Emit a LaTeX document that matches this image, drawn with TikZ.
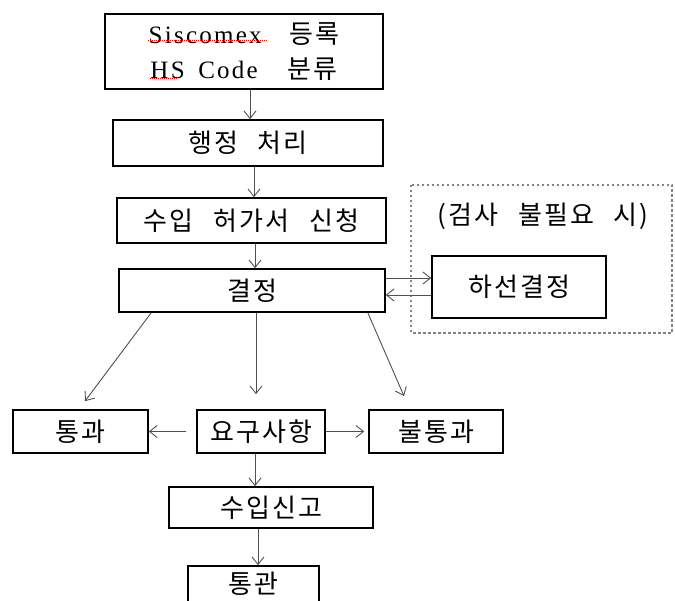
\documentclass[tikz,border=0pt]{standalone}
\usepackage{fontspec}
\setmainfont{Noto Sans CJK KR}[LetterSpace=8, WordSpace=2.5]
\newfontfamily\lat{Liberation Serif}[LetterSpace=9, WordSpace=1.6]
\usetikzlibrary{arrows.meta}
\definecolor{linegray}{RGB}{80,80,80}
\definecolor{framegray}{RGB}{130,130,130}

\begin{document}
\begin{tikzpicture}[x=1pt,y=-1pt,
    box/.style={draw, line width=1.7pt, inner sep=0pt, font=\fontsize{26}{30}\selectfont},
    arr/.style={draw=linegray, line width=0.9pt, -{Straight Barb[length=7.5pt,width=12pt]}}]
    \useasboundingbox (0,0) rectangle (675,601);
    \clip (0,0) rectangle (675,601);

    % Main column
    \node[box, minimum width=278pt, minimum height=75pt, align=center] (reg) at (244,51.5)
        {{\lat\fontsize{25}{28}\selectfont Siscomex}\hspace{8pt} 등록\\[5pt]{\lat\fontsize{25}{28}\selectfont HS Code}\hspace{10pt} 분류};
    \node[box, minimum width=270pt, minimum height=46pt] (admin) at (248,143) {행정 처리};
    \node[box, minimum width=269pt, minimum height=45pt] (apply) at (251.5,220.5) {수입 허가서 신청};
    \node[box, minimum width=266pt, minimum height=43pt] (decide) at (252,290.5) {결정};

    % Optional path (no inspection)
    \draw[framegray, line width=1.3pt, dash pattern=on 2.5pt off 2.5pt] (411,185) rectangle (672,333);
    \node[font=\fontsize{26}{30}\selectfont] (note) at (543,216) {(검사 불필요 시)};
    \node[box, minimum width=174pt, minimum height=62pt] (unload) at (519,287) {하선결정};

    % Outcomes
    \node[box, minimum width=135pt, minimum height=43pt] (pass) at (80.5,431.5) {통과};
    \node[box, minimum width=128pt, minimum height=43pt] (req) at (261,431.5) {요구사항};
    \node[box, minimum width=134pt, minimum height=43pt] (fail) at (436,431.5) {불통과};
    \node[box, minimum width=204pt, minimum height=41pt] (decl) at (271,507.5) {수입신고};
    \node[box, minimum width=131pt, minimum height=36pt] (clear) at (253.5,584) {통관};

    % Spell-check marks
    \draw[red, line width=1pt, densely dotted] (148,41) -- (268,41);
    \draw[red, line width=1pt, densely dotted] (150,79) -- (177,79);

    % Connectors
    \draw[arr] ([xshift=6pt]reg.south) -- ([xshift=2pt]admin.north);
    \draw[arr] ([xshift=6pt]admin.south) -- ([xshift=2.5pt]apply.north);
    \draw[arr] ([xshift=3.5pt]apply.south) -- ([xshift=3pt]decide.north);
    \draw[arr] ([yshift=12.5pt]decide.east) -- ([yshift=9pt]unload.west);
    \draw[arr] ([yshift=-8pt]unload.west) -- ([yshift=-4.5pt]decide.east);
    \draw[arr] ([xshift=33pt]decide.south west) -- ([xshift=4.5pt,yshift=8pt]pass.north);
    \draw[arr] ([xshift=4pt]decide.south) -- ([xshift=-5pt,yshift=15pt]req.north);
    \draw[arr] ([xshift=-18pt]decide.south east) -- ([xshift=-32pt,yshift=13pt]fail.north);
    \draw[arr] ([xshift=-10pt]req.west) -- (pass.east);
    \draw[arr] (req.east) -- ([xshift=-4pt]fail.west);
    \draw[arr] ([xshift=-6pt]req.south) -- ([xshift=-16pt]decl.north);
    \draw[arr] ([xshift=-13pt]decl.south) -- ([xshift=4.5pt]clear.north);
\end{tikzpicture}
\end{document}
